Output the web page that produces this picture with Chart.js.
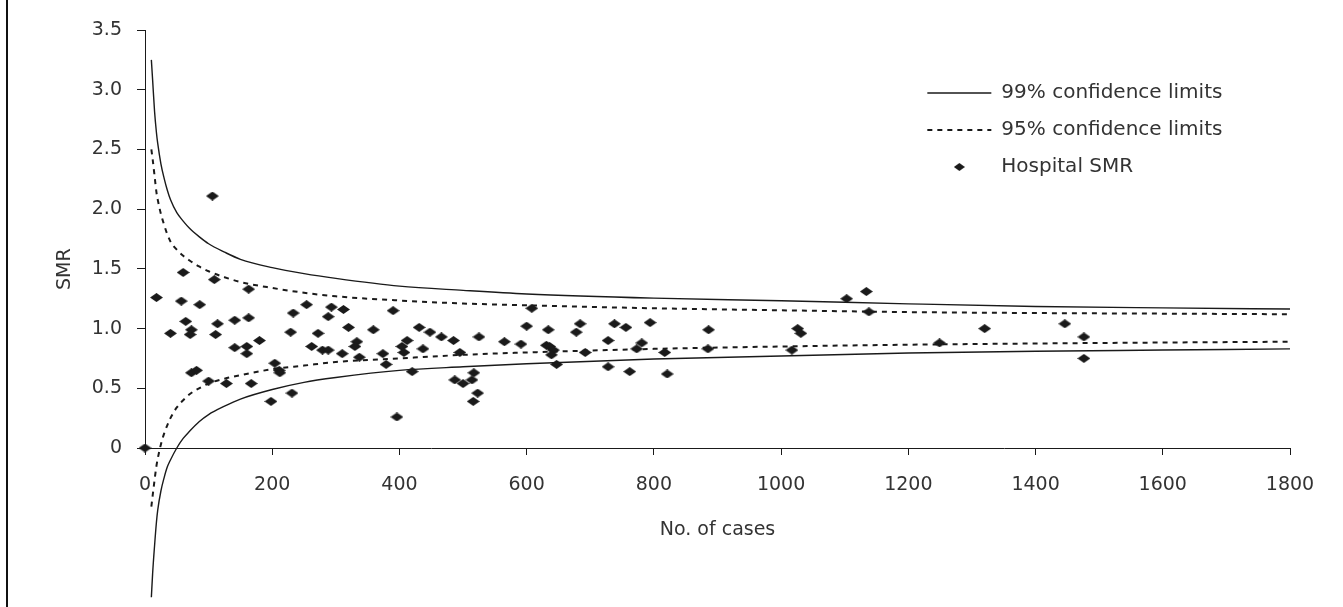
<!DOCTYPE html>
<html>
<head>
<meta charset="utf-8">
<script src="https://cdn.jsdelivr.net/npm/chart.js@4/dist/chart.umd.min.js"></script>
<style>
  html, body { margin: 0; padding: 0; background: #fff; }
  #wrap { position: relative; width: 1343px; height: 607px; overflow: hidden; }
  #frame { position: absolute; left: 6px; top: 0; width: 2px; height: 607px; background: #111; }
  canvas { position: absolute; left: 0; top: 0; }
</style>
</head>
<body>
<div id="wrap">
  <canvas id="c" width="1343" height="607"></canvas>
  <div id="frame"></div>
</div>
<script>
// ---- data ----
const limitCases = [10, 12, 15, 18, 20, 25, 30, 35, 40, 50, 60, 70, 85, 100, 125, 150, 200, 250, 300, 400, 500, 600, 800, 1000, 1200, 1400, 1600, 1800];
const upper99 = [3.25, 3.08, 2.82, 2.64, 2.55, 2.38, 2.26, 2.16, 2.08, 1.97, 1.90, 1.84, 1.77, 1.71, 1.64, 1.58, 1.51, 1.46, 1.42, 1.355, 1.32, 1.29, 1.255, 1.233, 1.207, 1.185, 1.173, 1.164];
const lower99 = [-1.25, -1.05, -0.82, -0.62, -0.52, -0.36, -0.25, -0.16, -0.10, 0.0, 0.08, 0.14, 0.22, 0.28, 0.35, 0.41, 0.49, 0.55, 0.59, 0.65, 0.68, 0.705, 0.745, 0.77, 0.795, 0.81, 0.82, 0.83];
const upper95 = [2.50, 2.42, 2.28, 2.14, 2.08, 1.96, 1.87, 1.79, 1.73, 1.66, 1.61, 1.57, 1.52, 1.48, 1.43, 1.39, 1.34, 1.30, 1.27, 1.235, 1.21, 1.195, 1.17, 1.153, 1.138, 1.13, 1.125, 1.12];
const lower95 = [-0.49, -0.40, -0.27, -0.15, -0.09, 0.03, 0.12, 0.19, 0.25, 0.34, 0.40, 0.45, 0.50, 0.54, 0.58, 0.61, 0.66, 0.69, 0.72, 0.75, 0.78, 0.80, 0.83, 0.85, 0.865, 0.875, 0.883, 0.89];

const hospitalCases = [0, 18, 40, 60, 57, 64, 73, 71, 86, 73, 81, 100, 106, 109, 114, 111, 128, 141, 141, 160, 160, 163, 163, 167, 180, 198, 204, 211, 212, 229, 233, 231, 254, 262, 272, 279, 288, 288, 293, 312, 310, 320, 333, 330, 337, 359, 374, 379, 390, 396, 404, 407, 412, 420, 431, 437, 448, 466, 485, 487, 495, 500, 514, 517, 523, 516, 525, 565, 591, 600, 608, 634, 631, 636, 642, 639, 647, 684, 678, 692, 738, 756, 728, 728, 762, 781, 773, 794, 817, 821, 886, 885, 1026, 1031, 1017, 1103, 1134, 1138, 1320, 1249, 1446, 1476, 1476];
const hospitalSMR = [0, 1.26, 0.96, 1.47, 1.23, 1.06, 0.99, 0.95, 1.20, 0.63, 0.65, 0.56, 2.11, 1.41, 1.04, 0.95, 0.54, 1.07, 0.84, 0.85, 0.79, 1.09, 1.33, 0.54, 0.90, 0.39, 0.71, 0.65, 0.63, 0.97, 1.13, 0.46, 1.20, 0.85, 0.96, 0.82, 0.82, 1.10, 1.18, 1.16, 0.79, 1.01, 0.89, 0.85, 0.76, 0.99, 0.79, 0.70, 1.15, 0.26, 0.85, 0.80, 0.90, 0.64, 1.01, 0.83, 0.97, 0.93, 0.90, 0.57, 0.80, 0.54, 0.57, 0.63, 0.46, 0.39, 0.93, 0.89, 0.87, 1.02, 1.17, 0.99, 0.86, 0.85, 0.82, 0.78, 0.70, 1.04, 0.97, 0.80, 1.04, 1.01, 0.90, 0.68, 0.64, 0.88, 0.83, 1.05, 0.80, 0.62, 0.99, 0.83, 1.00, 0.96, 0.82, 1.25, 1.31, 1.14, 1.00, 0.88, 1.04, 0.93, 0.75];

const xTickLabels = ['0', '200', '400', '600', '800', '1000', '1200', '1400', '1600', '1800'];
const yTickLabels = ['0', '0.5', '1.0', '1.5', '2.0', '2.5', '3.0', '3.5'];

const seriesLabels = ['99% confidence limits', '95% confidence limits', 'Hospital SMR'];
const xTitle = 'No. of cases';
const yTitle = 'SMR';

// ---- styling ----
const FONT = { family: '"DejaVu Sans", sans-serif', size: 19 };
const LEGEND_FONT = { family: '"DejaVu Sans", sans-serif', size: 20 };
const TEXT = '#333';
const INK = '#1a1a1a';

function makeDiamond(w, h, color) {
  const c = document.createElement('canvas');
  c.width = w; c.height = h;
  const g = c.getContext('2d');
  g.fillStyle = color;
  g.beginPath();
  g.moveTo(w / 2, 0); g.lineTo(w, h / 2); g.lineTo(w / 2, h); g.lineTo(0, h / 2);
  g.closePath(); g.fill();
  return c;
}
const diamond = makeDiamond(13, 9, INK);
const legendDiamond = makeDiamond(11, 8, INK);

const toXY = (xs, ys) => xs.map((x, i) => ({ x: x, y: ys[i] }));

const lineBase = {
  showLine: true, pointRadius: 0, pointHoverRadius: 0, pointStyle: 'line',
  borderColor: INK, backgroundColor: INK, fill: false,
  cubicInterpolationMode: 'monotone', clip: false, order: 2
};

const datasets = [
  Object.assign({}, lineBase, { label: seriesLabels[0], data: toXY(limitCases, upper99), borderWidth: 1.4 }),
  Object.assign({}, lineBase, { label: seriesLabels[0], data: toXY(limitCases, lower99), borderWidth: 1.4, legendHide: true }),
  Object.assign({}, lineBase, { label: seriesLabels[1], data: toXY(limitCases, upper95), borderWidth: 2, borderDash: [5, 5] }),
  Object.assign({}, lineBase, { label: seriesLabels[1], data: toXY(limitCases, lower95), borderWidth: 2, borderDash: [5, 5], legendHide: true }),
  {
    label: seriesLabels[2], data: toXY(hospitalCases, hospitalSMR), showLine: false,
    pointStyle: diamond, pointRadius: 6, backgroundColor: INK, borderColor: INK, borderWidth: 0,
    clip: false, order: 1, legendStyle: legendDiamond
  }
];

const legendPlacer = {
  id: 'legendPlacer',
  afterLayout(chart) {
    const lg = chart.legend;
    if (!lg) return;
    const ca = chart.chartArea;
    const left = chart.scales.x.getPixelForValue(1200) + 2;
    lg.left = left;
    lg.right = ca.right;
    lg.width = ca.right - left;
    lg.top = ca.top + 36;
    lg.bottom = ca.bottom;
    lg.height = lg.bottom - lg.top;
  }
};

new Chart(document.getElementById('c'), {
  type: 'scatter',
  data: { datasets: datasets },
  plugins: [legendPlacer],
  options: {
    responsive: false,
    animation: false,
    events: [],
    devicePixelRatio: 1,
    layout: { padding: { top: 30, right: 53, bottom: 0, left: 0 } },
    plugins: {
      tooltip: { enabled: false },
      title: { display: false },
      legend: {
        position: 'chartArea',
        align: 'start',
        labels: {
          usePointStyle: true,
          pointStyleWidth: 64,
          boxHeight: 20,
          padding: 17,
          color: TEXT,
          font: LEGEND_FONT,
          filter: (item, data) => !data.datasets[item.datasetIndex].legendHide,
          sort: (a, b) => a.datasetIndex - b.datasetIndex,
          generateLabels: (chart) => {
            const items = Chart.defaults.plugins.legend.labels.generateLabels(chart);
            return items.map(item => {
              const ds = chart.data.datasets[item.datasetIndex];
              if (ds.showLine) {
                item.lineDash = ds.borderDash || [];
                item.lineWidth = ds.borderWidth;
                item.strokeStyle = ds.borderColor;
              } else if (ds.legendStyle) {
                item.pointStyle = ds.legendStyle;
              }
              return item;
            });
          }
        }
      }
    },
    scales: {
      x: {
        type: 'linear', min: 0, max: 1800,
        afterBuildTicks: (s) => { s.ticks = xTickLabels.map(t => ({ value: Number(t) })); },
        afterFit: (s) => { s.height = 159; },
        ticks: { color: TEXT, font: FONT, padding: 19, maxRotation: 0, autoSkip: false,
                 callback: (v, i) => xTickLabels[i] },
        grid: { drawOnChartArea: false, drawTicks: true, tickLength: 7, color: INK, lineWidth: 1 },
        border: { display: true, color: INK, width: 1 },
        title: { display: true, text: xTitle, color: TEXT, font: FONT, padding: { top: 0, bottom: 66 } }
      },
      y: {
        type: 'linear', min: 0, max: 3.5,
        afterBuildTicks: (s) => { s.ticks = yTickLabels.map(t => ({ value: Number(t) })); },
        afterFit: (s) => { s.width = 145; },
        ticks: { color: TEXT, font: FONT, padding: 15, autoSkip: false,
                 callback: (v, i) => yTickLabels[i] },
        grid: { drawOnChartArea: false, drawTicks: true, tickLength: 8, color: INK, lineWidth: 1 },
        border: { display: true, color: INK, width: 1 },
        title: { display: true, text: yTitle + '          ', color: TEXT, font: FONT, padding: { top: 54, bottom: 0 } }
      }
    }
  }
});
</script>
</body>
</html>
